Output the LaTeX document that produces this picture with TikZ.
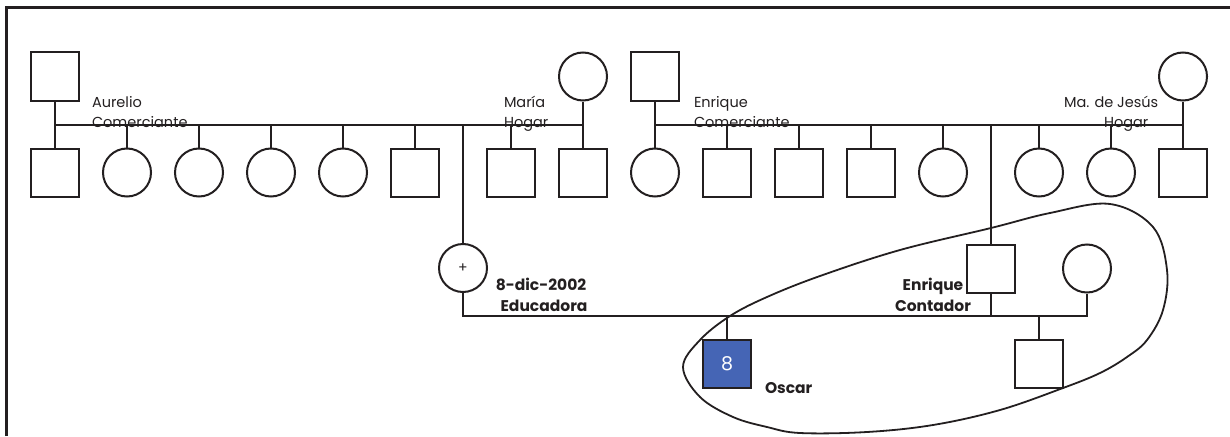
\documentclass[tikz,border=0pt]{standalone}
\usepackage{fontspec}
\setmainfont{Poppins}
\usetikzlibrary{positioning}
\definecolor{oscarblue}{RGB}{69,101,181}
\definecolor{ink}{RGB}{35,31,32}
\tikzstyle{male} = [rectangle, minimum size=48pt, inner sep=0pt, draw=ink]
\tikzstyle{female} = [circle, minimum size=48pt, inner sep=0pt, draw=ink]
\tikzstyle{tag} = [inner sep=0pt, text=ink, align=left, font=\fontsize{14.5}{20}\selectfont]
\tikzstyle{boldtag} = [tag, align=center, font=\fontsize{15.5}{21}\selectfont\bfseries]

\begin{document}
\begin{tikzpicture}[x=1pt, y=-1pt, line width=2pt, draw=ink]
\useasboundingbox (0,0) rectangle (1230,436);
% marco
\draw[line width=2.5pt] (6.5,436) -- (6.5,7.5) -- (1230,7.5);

% abuelos
\node[male] (aurelio) at (55,76.5) {};
\node[female] (maria) at (583,76.5) {};
\node[male] (enrique) at (655,76.5) {};
\node[female] (jesus) at (1183,76.5) {};
\coordinate (famA) at (55,124.7);
\coordinate (famB) at (655,124.7);
\draw (aurelio.south) -- (famA) -- (famA -| maria) -- (maria.south);
\draw (enrique.south) -- (famB) -- (famB -| jesus) -- (jesus.south);

\node[tag, anchor=north west] (aurelioTag) at (91,95) {Aurelio\\Comerciante};
\node[tag, anchor=north west] (mariaTag) at (503,95) {María\\Hogar};
\node[tag, anchor=north west] (enriqueTag) at (693,95) {Enrique\\Comerciante};
\node[tag, anchor=north west] (jesusTag) at (1063,95) {Ma. de Jesús\\\hspace*{40pt}Hogar};

% hijos
\foreach \x/\s [count=\i] in {55/male, 127/female, 199/female, 271/female, 343/female, 415/male, 511/male, 583/male} {
  \node[\s] (a\i) at (\x,172.5) {};
  \draw (a\i.north) -- (a\i.north |- famA);
}
\foreach \x/\s [count=\i] in {655/female, 727/male, 799/male, 871/male, 943/female, 1039/female, 1111/female, 1183/male} {
  \node[\s] (b\i) at (\x,172.5) {};
  \draw (b\i.north) -- (b\i.north |- famB);
}

% padres de Oscar
\node[female, font=\fontsize{14}{14}\selectfont, text=ink] (educadora) at (463,268) {+};
\node[male] (contador) at (991,268.5) {};
\node[female] (esposa) at (1087,268.5) {};
\draw (educadora.north) -- (educadora.north |- famA);
\draw (contador.north) -- (contador.north |- famB);
\coordinate (famC) at (463,316);
\draw (educadora.south) -- (famC) -- (famC -| esposa) -- (esposa.south);
\draw (contador.south) -- (contador.south |- famC);

\node[boldtag, anchor=north] (educadoraTag) at (541,277) {8-dic-2002\\\hspace*{6pt}Educadora};
\node[boldtag, anchor=north] (contadorTag) at (933,277) {Enrique\\Contador};

% Oscar y medio hermano
\node[male, fill=oscarblue, text=white, font=\fontsize{19}{19}\selectfont] (oscar) at (727,364) {8};
\node[male] (hijo) at (1039,364) {};
\draw (oscar.north) -- (oscar.north |- famC);
\draw (hijo.north) -- (hijo.north |- famC);
\node[boldtag, anchor=base west] (oscarTag) at (764,393) {Oscar};

% familia nuclear
\draw[line width=1.8pt] plot[smooth cycle, tension=0.6] coordinates {
  (683,367) (700,340) (730,316) (767,297) (820,276) (900,250) (991,228)
  (1050,213) (1110,204) (1153,227) (1167,270) (1163,310) (1147,340)
  (1127,357) (1100,373) (1063,388) (1000,410) (933,425) (867,432)
  (800,433) (767,427) (733,417) (700,397)};
\end{tikzpicture}
\end{document}
